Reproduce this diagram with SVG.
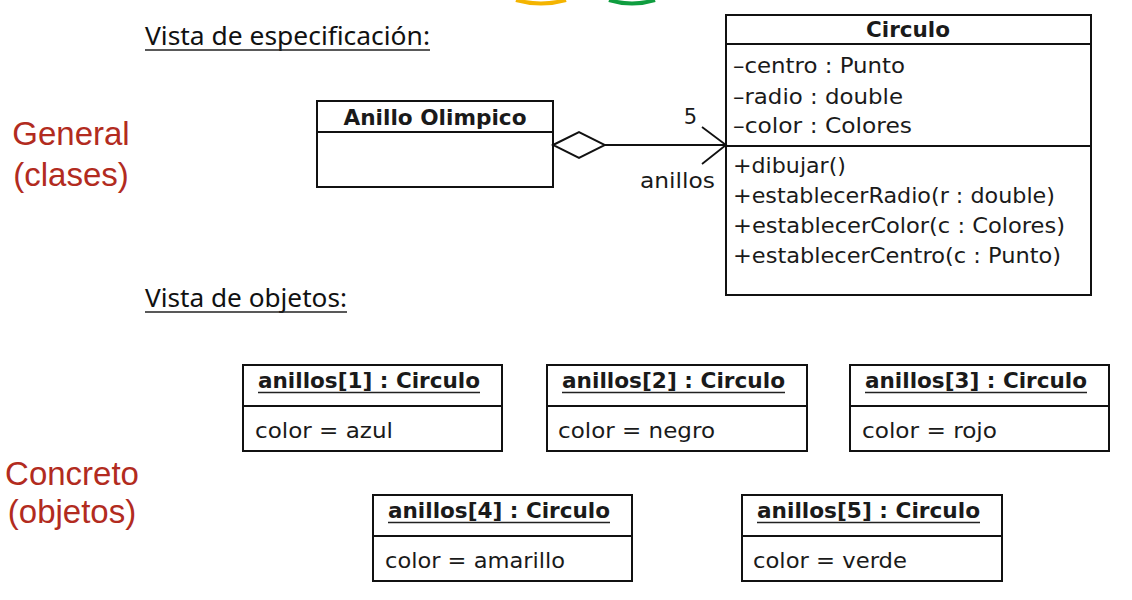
<svg xmlns="http://www.w3.org/2000/svg" width="1132" height="600" viewBox="0 0 1132 600">
<style>
  .box { fill: #ffffff; stroke: #111111; stroke-width: 2; }
  .div { stroke: #111111; stroke-width: 2; }
  .uml { font-family: "DejaVu Sans", "Liberation Sans", sans-serif; font-size: 21px; fill: #1a1a1a; }
  .bold { font-weight: bold; }
  .red { font-family: "Liberation Sans", Arial, sans-serif; font-size: 33px; fill: #b22b20; text-anchor: middle; }
  .view { font-family: "Noto Sans", "Open Sans", sans-serif; font-size: 25px; fill: #111111; }
  .ul { stroke: #222222; stroke-width: 1.6; }
  .conn { fill: none; stroke: #111111; stroke-width: 2; }
</style>
<defs>
  <marker id="diamond" markerUnits="userSpaceOnUse" viewBox="-2 -15 56 30" refX="0" refY="0" markerWidth="56" markerHeight="30" orient="auto">
    <path d="M0,0 L26,-13 L52,0 L26,13 Z" fill="#ffffff" stroke="#111111" stroke-width="2"/>
  </marker>
  <marker id="openArrow" markerUnits="userSpaceOnUse" viewBox="-27 -21 29 42" refX="0" refY="0" markerWidth="29" markerHeight="42" orient="auto">
    <path d="M-24,-18 L0,0 L-24,19" fill="none" stroke="#111111" stroke-width="1.8"/>
  </marker>
</defs>
<rect width="1132" height="600" fill="#ffffff"/>

<!-- partial rings at top edge -->
<g id="rings-fragment">
  <path d="M516,0 Q541,7 566,0" fill="none" stroke="#f4b400" stroke-width="4"/>
  <path d="M609,0 Q632,7 655,0" fill="none" stroke="#0f9d3f" stroke-width="4"/>
</g>

<g id="label-general">
  <text class="red" x="71" y="145">General</text>
  <text class="red" x="71" y="186">(clases)</text>
</g>
<g id="label-concreto">
  <text class="red" x="72" y="485">Concreto</text>
  <text class="red" x="72" y="523">(objetos)</text>
</g>

<g id="title-especificacion">
  <text class="view" x="145" y="45" textLength="285" lengthAdjust="spacingAndGlyphs">Vista de especificación:</text>
  <line class="ul" x1="145" y1="50" x2="430" y2="50"/>
</g>
<g id="title-objetos">
  <text class="view" x="145" y="307" textLength="202" lengthAdjust="spacingAndGlyphs">Vista de objetos:</text>
  <line class="ul" x1="145" y1="312" x2="347" y2="312"/>
</g>

<g id="anillo-olimpico">
  <rect class="box" x="317" y="101" width="236" height="86"/>
  <line class="div" x1="317" y1="132" x2="553" y2="132"/>
  <text class="uml bold" x="435" y="125" text-anchor="middle" textLength="183" lengthAdjust="spacingAndGlyphs">Anillo Olimpico</text>
</g>

<g id="circulo">
  <rect class="box" x="726" y="15" width="365" height="280"/>
  <line class="div" x1="726" y1="44" x2="1091" y2="44"/>
  <line class="div" x1="726" y1="146" x2="1091" y2="146"/>
  <text class="uml bold" x="908" y="37" text-anchor="middle" textLength="84" lengthAdjust="spacingAndGlyphs">Circulo</text>
  <text class="uml" x="733" y="73" textLength="172" lengthAdjust="spacingAndGlyphs">–centro : Punto</text>
  <text class="uml" x="733" y="104" textLength="170" lengthAdjust="spacingAndGlyphs">–radio : double</text>
  <text class="uml" x="733" y="133" textLength="179" lengthAdjust="spacingAndGlyphs">–color : Colores</text>
  <text class="uml" x="733" y="173" textLength="113" lengthAdjust="spacingAndGlyphs">+dibujar()</text>
  <text class="uml" x="733" y="203" textLength="322" lengthAdjust="spacingAndGlyphs">+establecerRadio(r : double)</text>
  <text class="uml" x="733" y="233" textLength="332" lengthAdjust="spacingAndGlyphs">+establecerColor(c : Colores)</text>
  <text class="uml" x="733" y="263" textLength="328" lengthAdjust="spacingAndGlyphs">+establecerCentro(c : Punto)</text>
</g>

<g id="connectors">
  <path class="conn" d="M553,145 L726,145" marker-start="url(#diamond)" marker-end="url(#openArrow)"/>
  <text class="uml" x="697" y="124" text-anchor="end">5</text>
  <text class="uml" x="640" y="188" textLength="75" lengthAdjust="spacingAndGlyphs">anillos</text>
</g>

<g id="obj1">
  <rect class="box" x="243" y="365" width="259" height="86"/>
  <line class="div" x1="243" y1="406" x2="502" y2="406"/>
  <text class="uml bold" x="258" y="388" textLength="222" lengthAdjust="spacingAndGlyphs">anillos[1] : Circulo</text>
  <line class="ul" x1="258" y1="392.5" x2="480" y2="392.5"/>
  <text class="uml" x="255" y="438" textLength="138" lengthAdjust="spacingAndGlyphs">color = azul</text>
</g>
<g id="obj2">
  <rect class="box" x="547" y="365" width="260" height="86"/>
  <line class="div" x1="547" y1="406" x2="807" y2="406"/>
  <text class="uml bold" x="562" y="388" textLength="223" lengthAdjust="spacingAndGlyphs">anillos[2] : Circulo</text>
  <line class="ul" x1="562" y1="392.5" x2="785" y2="392.5"/>
  <text class="uml" x="558" y="438" textLength="157" lengthAdjust="spacingAndGlyphs">color = negro</text>
</g>
<g id="obj3">
  <rect class="box" x="850" y="365" width="259" height="86"/>
  <line class="div" x1="850" y1="406" x2="1109" y2="406"/>
  <text class="uml bold" x="865" y="388" textLength="222" lengthAdjust="spacingAndGlyphs">anillos[3] : Circulo</text>
  <line class="ul" x1="865" y1="392.5" x2="1087" y2="392.5"/>
  <text class="uml" x="862" y="438" textLength="135" lengthAdjust="spacingAndGlyphs">color = rojo</text>
</g>
<g id="obj4">
  <rect class="box" x="373" y="495" width="259" height="86"/>
  <line class="div" x1="373" y1="536" x2="632" y2="536"/>
  <text class="uml bold" x="388" y="518" textLength="222" lengthAdjust="spacingAndGlyphs">anillos[4] : Circulo</text>
  <line class="ul" x1="388" y1="522.5" x2="610" y2="522.5"/>
  <text class="uml" x="385" y="568" textLength="180" lengthAdjust="spacingAndGlyphs">color = amarillo</text>
</g>
<g id="obj5">
  <rect class="box" x="742" y="495" width="260" height="86"/>
  <line class="div" x1="742" y1="536" x2="1002" y2="536"/>
  <text class="uml bold" x="757" y="518" textLength="223" lengthAdjust="spacingAndGlyphs">anillos[5] : Circulo</text>
  <line class="ul" x1="757" y1="522.5" x2="980" y2="522.5"/>
  <text class="uml" x="753" y="568" textLength="154" lengthAdjust="spacingAndGlyphs">color = verde</text>
</g>
</svg>
